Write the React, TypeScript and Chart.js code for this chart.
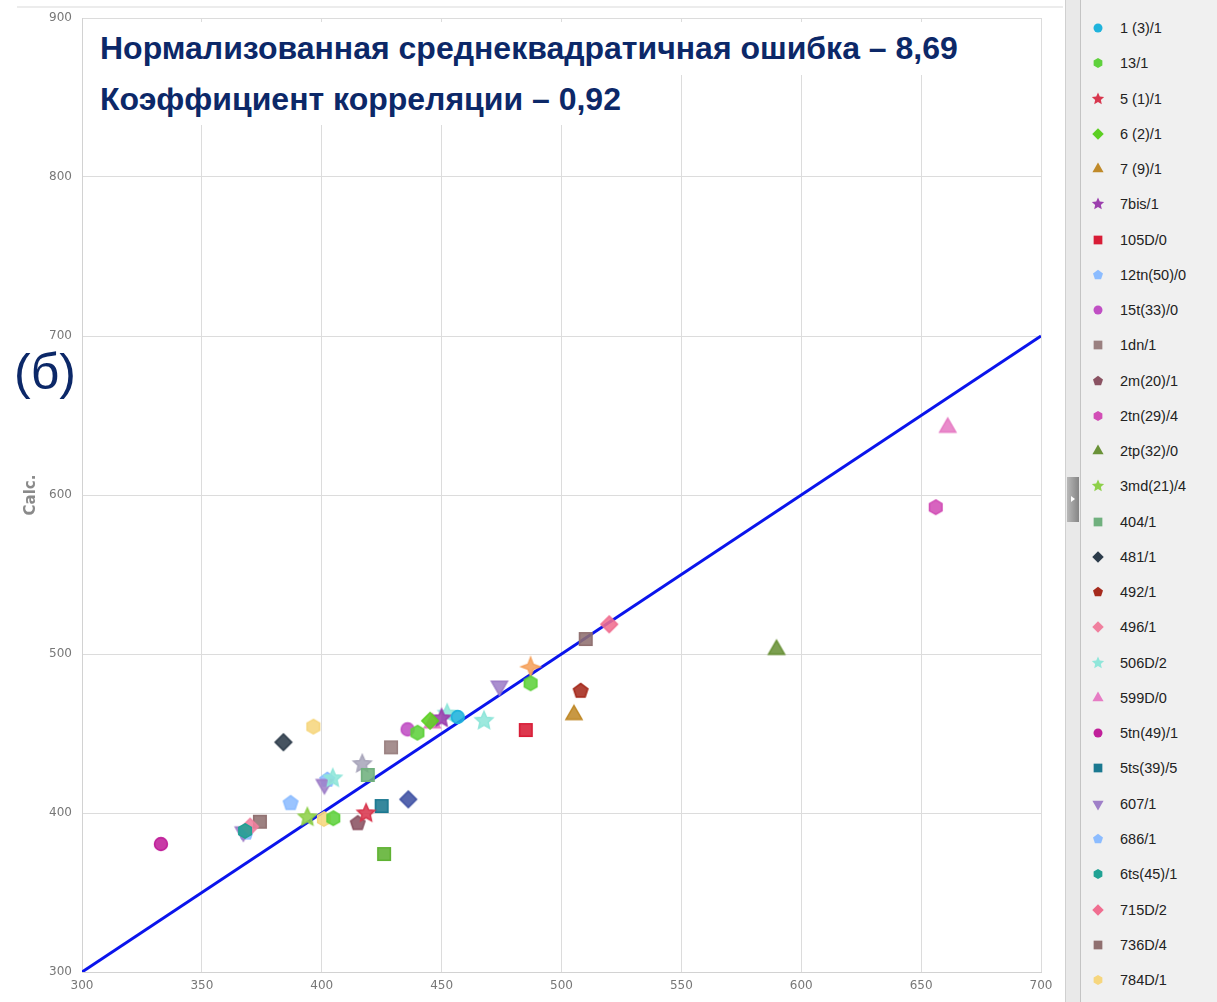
import React, { useEffect, useRef, useMemo } from "react";
import { Chart, registerables } from "chart.js";
Chart.register(...registerables);

// ---------- DATA ----------
const seriesNames = [
  "1 (3)/1", "13/1", "5 (1)/1", "6 (2)/1", "7 (9)/1", "7bis/1", "105D/0", "12tn(50)/0",
  "15t(33)/0", "1dn/1", "2m(20)/1", "2tn(29)/4", "2tp(32)/0", "3md(21)/4", "404/1", "481/1",
  "492/1", "496/1", "506D/2", "599D/0", "5tn(49)/1", "5ts(39)/5", "607/1", "686/1",
  "6ts(45)/1", "715D/2", "736D/4", "784D/1",
  // PLACEHOLDER NAMES: four plotted markers (grey star, blue diamond, orange 4-point star,
  // green square) match no visible legend entry, so their real series names are unknown.
  "неизвестно 1", "неизвестно 2", "неизвестно 3", "неизвестно 4",
];
const visibleLegendCount = 28;

const measuredValues: number[][] = [
  [456.7], [487.1, 404.8, 439.9], [418.5], [445.2], [505.2], [450.0], [485.1], [387.0],
  [435.8], [428.9], [415.0], [656.1], [589.7], [394.0], [419.2], [384.0],
  [508.0], [370.1], [452.3, 467.7, 404.6], [661.1, 446.1], [332.9], [425.0], [474.1, 401.1, 367.3], [402.3, 368.4],
  [368.0], [519.9], [510.1, 374.2], [396.5, 400.9],
  [416.9], [436.1], [487.1], [426.0],
];
// calculated (y) values per series
const calculatedValues: number[][] = [
  [460.4], [481.6, 396.7, 450.5], [399.8], [458.0], [461.8], [459.5], [452.2], [406.1],
  [452.6], [441.3], [393.5], [592.3], [502.8], [397.3], [423.9], [444.5],
  [476.7], [391.4], [462.5, 458.0, 421.8], [642.5, 456.6], [380.5], [404.4], [479.9, 418.0, 388.2], [420.8, 387.6],
  [388.7], [518.7], [509.4, 394.5], [454.3, 396.2],
  [430.8], [408.6], [492.0], [374.2],
];

const lineX = [300, 700];
const lineY = [300, 700];
const xRange = [300, 700];
const yRange = [300, 900];
const xStep = 50;
const yStep = 100;
const yAxisTitle = "Calc.";
const titleLines = [
  "Нормализованная среднеквадратичная ошибка – 8,69",
  "Коэффициент корреляции – 0,92",
];
const panelLabel = "(б)";

// ---------- STYLES ----------
const seriesColors = [
  "#1fb3dc", "#5fd13c", "#d8374e", "#5ccf22", "#c08a2a", "#9c3fae", "#d81c36", "#8cbcff",
  "#c04fc4", "#9a8080", "#8a5262", "#d24eb6", "#6a9238", "#8ed04a", "#70b07e", "#2c3b4a",
  "#a52a1c", "#f0809e", "#90e6da", "#e67cc4", "#c0209a", "#1a7890", "#9f7fc8", "#8cbcff",
  "#20a294", "#f06e90", "#907070", "#f6d67e",
  "#a9a6bb", "#3f51a3", "#f5a25d", "#5fb232",
];
const seriesShapes = [
  "circle", "hexagon", "star", "diamond", "triangle", "star", "square", "pentagon",
  "circle", "square", "pentagon", "hexagon", "triangle", "star", "square", "diamond",
  "pentagon", "diamond", "star", "triangle", "circle", "square", "triangleDown", "pentagon",
  "hexagon", "diamond", "square", "hexagon",
  "star", "diamond", "star4", "square",
];
// drawing order (lower = drawn on top)
const seriesOrder = seriesNames.map((n) => (n === "6ts(45)/1" ? -1 : 0));

function rgba(hex: string, a: number) {
  const h = hex.replace("#", "");
  const r = parseInt(h.slice(0, 2), 16), g = parseInt(h.slice(2, 4), 16), b = parseInt(h.slice(4, 6), 16);
  return `rgba(${r},${g},${b},${a})`;
}

function makeMarker(shape: string, color: string, scale: number, alpha: number, lw: number) {
  const size = Math.ceil(22 * scale) + 2;
  const c = document.createElement("canvas");
  c.width = size; c.height = size;
  const ctx = c.getContext("2d")!;
  const cx = size / 2, cy = size / 2;
  const poly = (n: number, r: number, start: number) => {
    for (let i = 0; i < n; i++) {
      const a = start + (i * 2 * Math.PI) / n;
      const x = cx + r * Math.cos(a), y = cy + r * Math.sin(a);
      if (i === 0) ctx.moveTo(x, y); else ctx.lineTo(x, y);
    }
  };
  const star = (n: number, ro: number, ri: number) => {
    for (let i = 0; i < n * 2; i++) {
      const r = i % 2 === 0 ? ro : ri;
      const a = -Math.PI / 2 + (i * Math.PI) / n;
      const x = cx + r * Math.cos(a), y = cy + r * Math.sin(a);
      if (i === 0) ctx.moveTo(x, y); else ctx.lineTo(x, y);
    }
  };
  ctx.beginPath();
  const s = scale;
  switch (shape) {
    case "circle": ctx.arc(cx, cy, 6.4 * s, 0, Math.PI * 2); break;
    case "square": poly(4, 8.8 * s, Math.PI / 4); break;
    case "diamond": poly(4, 8.2 * s, -Math.PI / 2); break;
    case "triangle": poly(3, 9.2 * s, -Math.PI / 2); break;
    case "triangleDown": poly(3, 9.2 * s, Math.PI / 2); break;
    case "pentagon": poly(5, 7.5 * s, -Math.PI / 2); break;
    case "hexagon": poly(6, 7.2 * s, -Math.PI / 2); break;
    case "star": star(5, 9.2 * s, 4.3 * s); break;
    case "star4": star(4, 9.2 * s, 3.6 * s); break;
  }
  ctx.closePath();
  ctx.fillStyle = rgba(color, alpha);
  ctx.fill();
  if (lw > 0) {
    ctx.strokeStyle = color;
    ctx.lineWidth = lw;
    ctx.stroke();
  }
  return c;
}

const navy = "#0c2868";

export default function App() {
  const ref = useRef<HTMLCanvasElement>(null);

  const legendIcons = useMemo(
    () => seriesNames.slice(0, visibleLegendCount).map((_, i) =>
      makeMarker(seriesShapes[i], seriesColors[i], 0.7, 1, 0).toDataURL()),
    []
  );

  useEffect(() => {
    document.body.style.margin = "0";
    const pointDatasets = seriesNames.map((name, i) => ({
      type: "scatter" as const,
      label: name,
      order: seriesOrder[i],
      data: measuredValues[i].map((x, j) => ({ x, y: calculatedValues[i][j] })),
      pointStyle: makeMarker(seriesShapes[i], seriesColors[i], 1, 0.88, 1.6),
      pointRadius: 7,
      pointHoverRadius: 7,
      backgroundColor: seriesColors[i],
      borderColor: seriesColors[i],
    }));
    const lineDataset = {
      type: "line" as const,
      label: "y = x",
      order: 1,
      data: lineX.map((x, i) => ({ x, y: lineY[i] })),
      borderColor: "#0a14ec",
      borderWidth: 3,
      pointRadius: 0,
      fill: false,
      tension: 0,
    };
    const chart = new Chart(ref.current!, {
      type: "scatter",
      data: { datasets: [...pointDatasets, lineDataset] as any },
      options: {
        animation: false,
        responsive: false,
        maintainAspectRatio: false,
        layout: { padding: { top: 18, right: 176, left: 0, bottom: 0 } },
        plugins: { legend: { display: false }, tooltip: { enabled: false } },
        scales: {
          x: {
            type: "linear",
            min: xRange[0], max: xRange[1],
            ticks: { stepSize: xStep, color: "#777", font: { family: "DejaVu Sans", size: 12 }, padding: 7, maxRotation: 0 },
            grid: { color: "#dcdcdc", drawTicks: false },
            border: { color: "#d2d2d2" },
            afterFit: (s: any) => { s.height = 30; },
          },
          y: {
            type: "linear",
            min: yRange[0], max: yRange[1],
            ticks: { stepSize: yStep, color: "#777", font: { family: "DejaVu Sans", size: 12 }, padding: 10 },
            grid: { color: "#dcdcdc", drawTicks: false },
            border: { color: "#d2d2d2" },
            title: {
              display: true, text: yAxisTitle, color: "#8a8a8a",
              font: { family: "DejaVu Sans", size: 15, weight: "bold" },
              padding: { top: 22, bottom: 0 },
            },
            afterFit: (s: any) => { s.width = 82; },
          },
        },
      } as any,
    });
    return () => chart.destroy();
  }, []);

  const rowH = 35.26;
  return (
    <div style={{ position: "absolute", left: 0, top: 0, width: 1217, height: 1002, background: "#fff", overflow: "hidden" }}>
      <canvas ref={ref} width={1217} height={1002} style={{ display: "block", position: "absolute", left: 0, top: 0 }} />
      {/* faint frame line at top */}
      <div style={{ position: "absolute", left: 17, top: 6, width: 1046, height: 2, background: "#ececec" }} />
      {/* title boxes */}
      <div style={{ position: "absolute", left: 88, top: 22, width: 880, height: 53, background: "#fff" }} />
      <div style={{ position: "absolute", left: 88, top: 75, width: 545, height: 50, background: "#fff" }} />
      {titleLines.map((t, i) => (
        <div key={i} style={{
          position: "absolute", left: 100, top: i === 0 ? 32 : 83, whiteSpace: "nowrap",
          fontFamily: "'Liberation Sans', Arial, sans-serif", fontWeight: "bold", fontSize: 32, lineHeight: "32px", color: navy,
        }}>{t}</div>
      ))}
      <div style={{
        position: "absolute", left: 14, top: 347, fontFamily: "'Liberation Sans', Arial, sans-serif",
        fontSize: 50, lineHeight: "50px", color: navy,
      }}>{panelLabel}</div>
      {/* side panel with scroll strip */}
      <div style={{ position: "absolute", left: 1065, top: 0, width: 14, height: 1002, background: "#e9e9e9", borderLeft: "1px solid #d0d0d0", borderRight: "1px solid #c4c4c4" }} />
      <div style={{ position: "absolute", left: 1067, top: 477, width: 12, height: 45, background: "linear-gradient(to right, #b8b8b8, #858585)" }} />
      <div style={{ position: "absolute", left: 1071, top: 496, width: 0, height: 0, borderTop: "3px solid transparent", borderBottom: "3px solid transparent", borderLeft: "4px solid #fff" }} />
      <div style={{ position: "absolute", left: 1081, top: 0, width: 136, height: 1002, background: "#f0f0f0", overflow: "hidden" }}>
        {seriesNames.slice(0, visibleLegendCount).map((name, i) => (
          <div key={name} style={{ position: "absolute", left: 0, top: 28 + i * rowH - 10, height: 20, width: 136 }}>
            <img src={legendIcons[i]} style={{ position: "absolute", left: 17 - 9, top: 10 - 9, width: 18, height: 18 }} />
            <span style={{
              position: "absolute", left: 39, top: 1, fontFamily: "'Liberation Sans', Arial, sans-serif",
              fontSize: 14.5, lineHeight: "18px", color: "#222", whiteSpace: "nowrap",
            }}>{name}</span>
          </div>
        ))}
      </div>
    </div>
  );
}
